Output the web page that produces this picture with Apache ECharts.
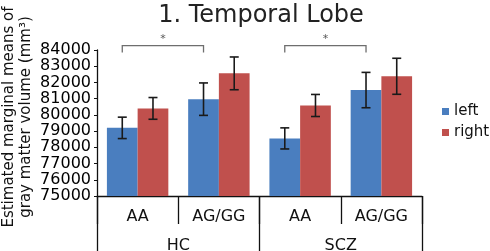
<!DOCTYPE html>
<html lang="en">
<head>
    <meta charset="UTF-8">
    <title>1. Temporal Lobe</title>
    <style>
        body { margin: 0; background: #fff; }
        #chart { width: 490px; height: 251px; }
    </style>
    <script src="https://cdn.jsdelivr.net/npm/echarts@6/dist/echarts.min.js"></script>
</head>
<body>
<div id="chart"></div>
<script>
    // Data
    var genotypes = ['AA', 'AG/GG', 'AA', 'AG/GG'];
    var groups = ['HC', 'SCZ'];
    var leftMeans = [79200, 80970, 78550, 81530];
    var rightMeans = [80400, 82560, 80580, 82380];
    var leftErr = [660, 1000, 650, 1090];
    var rightErr = [670, 1010, 680, 1110];
    // significance brackets: [from category, to category, height]
    var brackets = [[0, 1, 84270], [2, 3, 84270]];

    var blue = '#4a7ebf';
    var red = '#c0504d';
    var font = 'DejaVu Sans';
    var gapFrac = 0.244;

    var chart = echarts.init(document.getElementById('chart'));

    function errData(means, errs) {
        return means.map(function (m, i) { return [i, m - errs[i], m + errs[i]]; });
    }

    // error bars drawn at the center of the left (side=-1) or right (side=1) bar
    function errRender(side) {
        return function (params, api) {
            var band = api.size([1, 0])[0];
            var off = side * band * (1 - gapFrac) / 4;
            var lo = api.coord([api.value(0), api.value(1)]);
            var hi = api.coord([api.value(0), api.value(2)]);
            var x = lo[0] + off;
            var cap = 4.5;
            var st = { stroke: '#1a1a1a', lineWidth: 1.6 };
            return {
                type: 'group',
                children: [
                    { type: 'line', shape: { x1: x, y1: hi[1], x2: x, y2: lo[1] }, style: st },
                    { type: 'line', shape: { x1: x - cap, y1: hi[1], x2: x + cap, y2: hi[1] }, style: st },
                    { type: 'line', shape: { x1: x - cap, y1: lo[1], x2: x + cap, y2: lo[1] }, style: st }
                ]
            };
        };
    }

    function bracketRender(params, api) {
        var band = api.size([1, 0])[0];
        var off = -band * (1 - gapFrac) / 4;
        var a = api.coord([api.value(0), api.value(2)]);
        var b = api.coord([api.value(1), api.value(2)]);
        var x1 = a[0] + off, x2 = b[0] + off, y = a[1];
        var st = { stroke: '#6e6e6e', lineWidth: 1.3, fill: null };
        return {
            type: 'group',
            children: [
                { type: 'polyline', shape: { points: [[x1, y + 7], [x1, y], [x2, y], [x2, y + 7]] }, style: st },
                { type: 'text', style: { text: '*', x: (x1 + x2) / 2, y: y - 1, align: 'center', verticalAlign: 'bottom',
                    font: '11px "DejaVu Sans"', fill: '#555' } }
            ]
        };
    }

    var option = {
        animation: false,
        title: {
            text: '1. Temporal Lobe',
            left: 256, textAlign: 'center', top: -1,
            textStyle: { fontFamily: font, fontSize: 24, fontWeight: 'normal', color: '#222' }
        },
        legend: {
            data: ['left', 'right'],
            orient: 'vertical',
            left: 437, top: 99,
            icon: 'rect', itemWidth: 7, itemHeight: 7, itemGap: 6, itemTextGap: 7,
            textStyle: { fontFamily: font, fontSize: 15, color: '#111' }
        },
        graphic: [{
            type: 'text', x: 18, y: 117, rotation: Math.PI / 2,
            style: {
                text: 'Estimated marginal means of\ngray matter volume (mm³)',
                align: 'center', verticalAlign: 'middle', lineHeight: 17,
                font: '15px "DejaVu Sans"', fill: '#111'
            }
        }],
        grid: { left: 97, right: 68, top: 50, bottom: 55, outerBoundsMode: 'none', containLabel: false },
        xAxis: [
            {
                type: 'category', data: genotypes, position: 'bottom',
                axisLine: { show: true, lineStyle: { color: '#111', width: 1.3 } },
                axisTick: { show: true, length: 28, lineStyle: { color: '#111', width: 1.3 } },
                axisLabel: { margin: 13, fontFamily: font, fontSize: 16, color: '#111' }
            },
            {
                type: 'category', data: groups, position: 'bottom',
                axisLine: { show: false },
                axisTick: { show: true, length: 60, lineStyle: { color: '#111', width: 1.3 } },
                axisLabel: { margin: 42, fontFamily: font, fontSize: 16, color: '#111' }
            }
        ],
        yAxis: {
            type: 'value', min: 75000, max: 84000, interval: 1000,
            axisLine: { show: true, lineStyle: { color: '#111', width: 1.3 } },
            axisTick: { show: true, length: 3, lineStyle: { color: '#111' } },
            splitLine: { show: false },
            axisLabel: { margin: 6, fontFamily: font, fontSize: 16, color: '#000',
                formatter: function (v) { return String(v); } }
        },
        series: [
            { name: 'left', type: 'bar', data: leftMeans, barGap: 0, barCategoryGap: (gapFrac * 100) + '%',
              itemStyle: { color: blue } },
            { name: 'right', type: 'bar', data: rightMeans, barGap: 0, barCategoryGap: (gapFrac * 100) + '%',
              itemStyle: { color: red } },
            { type: 'custom', data: errData(leftMeans, leftErr), renderItem: errRender(-1), z: 5, silent: true },
            { type: 'custom', data: errData(rightMeans, rightErr), renderItem: errRender(1), z: 5, silent: true },
            { type: 'custom', data: brackets, renderItem: bracketRender, z: 5, silent: true }
        ]
    };
    chart.setOption(option);
</script>
</body>
</html>
